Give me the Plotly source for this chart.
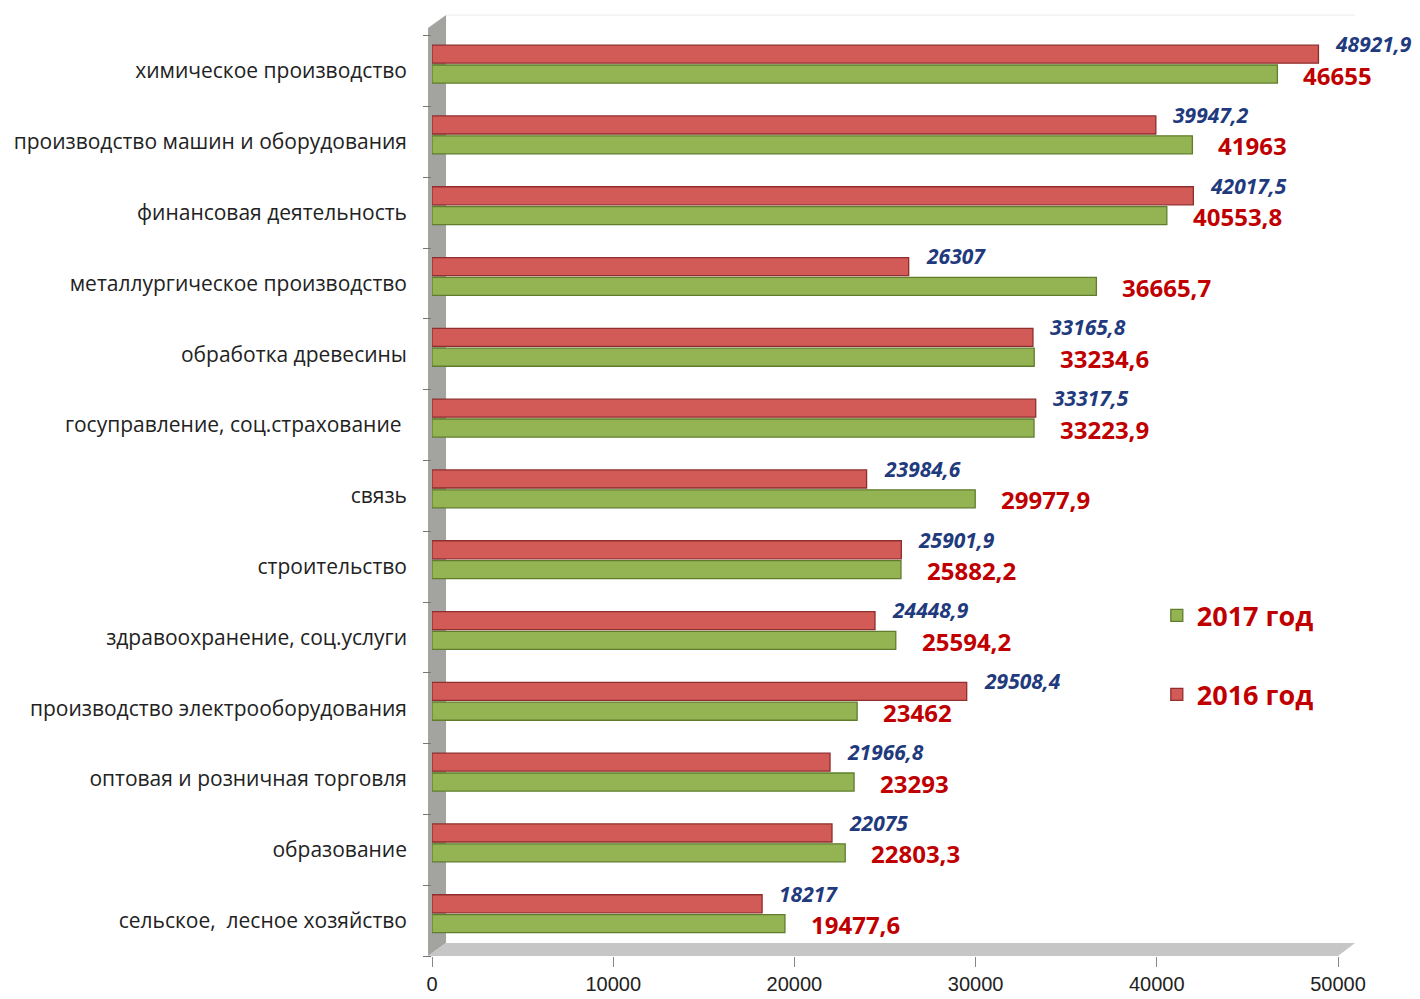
import plotly.graph_objects as go

categories = [
    "химическое производство",
    "производство машин и оборудования",
    "финансовая деятельность",
    "металлургическое производство",
    "обработка древесины",
    "госуправление, соц.страхование ",
    "связь",
    "строительство",
    "здравоохранение, соц.услуги",
    "производство электрооборудования",
    "оптовая и розничная торговля",
    "образование",
    "сельское,  лесное хозяйство",
]
values_2016 = [48921.9, 39947.2, 42017.5, 26307, 33165.8, 33317.5, 23984.6,
               25901.9, 24448.9, 29508.4, 21966.8, 22075, 18217]
values_2017 = [46655, 41963, 40553.8, 36665.7, 33234.6, 33223.9, 29977.9,
               25882.2, 25594.2, 23462, 23293, 22803.3, 19477.6]
series_names = ["2017 год", "2016 год"]
x_ticks = [0, 10000, 20000, 30000, 40000, 50000]


def fmt(v):
    return f"{v:g}".replace(".", ",")


fig = go.Figure()
fig.add_trace(go.Bar(
    y=categories, x=values_2017, orientation="h", name=series_names[0],
    legendgroup="a", offset=-0.17, width=0.255,
    marker=dict(color="#94b454", line=dict(color="#5f7d2c", width=1.3)),
))
fig.add_trace(go.Bar(
    y=categories, x=values_2016, orientation="h", name=series_names[1],
    legendgroup="b", offset=0.11, width=0.255,
    marker=dict(color="#d25a57", line=dict(color="#8e2f2d", width=1.3)),
))

# value labels placed at each bar's value through the axes
for cat, v in zip(categories, values_2017):
    fig.add_annotation(x=v, y=cat, text=fmt(v), showarrow=False,
                       xanchor="left", yanchor="middle", xshift=24, yshift=-4,
                       font=dict(family="Open Sans", size=24, color="#c00000",
                                 weight="bold"))
for cat, v in zip(categories, values_2016):
    fig.add_annotation(x=v, y=cat, text=f"<i>{fmt(v)}</i>", showarrow=False,
                       xanchor="left", yanchor="middle", xshift=15, yshift=27,
                       font=dict(family="Open Sans", size=21, color="#1f3a7d",
                                 weight="bold"))

# 3D wall and floor decorations
fig.add_shape(type="path", xref="paper", yref="paper",
              path="M -0.0044 0 L -0.0044 1.0 L 0.0155 1.014 L 0.0155 0.014 Z",
              fillcolor="#a3a4a0", line=dict(width=0), layer="below")
fig.add_shape(type="path", xref="paper", yref="paper",
              path="M -0.0044 0 L 1.0 0 L 1.0188 0.014 L 0.0155 0.014 Z",
              fillcolor="#c6c6c6", line=dict(width=0), layer="below")
fig.add_shape(type="line", xref="paper", yref="paper",
              x0=0.0155, y0=1.014, x1=1.0188, y1=1.014,
              line=dict(color="#ececec", width=1), layer="below")

fig.update_layout(
    width=1412, height=991,
    margin=dict(l=424, r=82, t=20, b=43, autoexpand=False),
    paper_bgcolor="white", plot_bgcolor="white",
    barmode="overlay",
    font=dict(family="Open Sans", color="#222222"),
    legend=dict(x=0.80, y=0.393, xanchor="left", yanchor="top",
                font=dict(size=27, color="#c00000", weight="bold"),
                tracegroupgap=41, bgcolor="rgba(0,0,0,0)"),
    xaxis=dict(range=[0, 50000], tickvals=x_ticks,
               ticktext=[str(t) for t in x_ticks],
               showgrid=False, zeroline=False, showline=False,
               ticks="outside", ticklen=10, tickcolor="#888888",
               tickfont=dict(family="Liberation Sans", size=20,
                             color="#222222")),
    yaxis=dict(categoryorder="array", categoryarray=categories[::-1],
               showgrid=False, zeroline=False, showline=False,
               ticks="outside", ticklen=8, tickcolor="#777777",
               tickson="boundaries", ticklabelstandoff=24,
               tickfont=dict(family="Open Sans", size=21, color="#222222")),
)

fig.write_html("out.html")
